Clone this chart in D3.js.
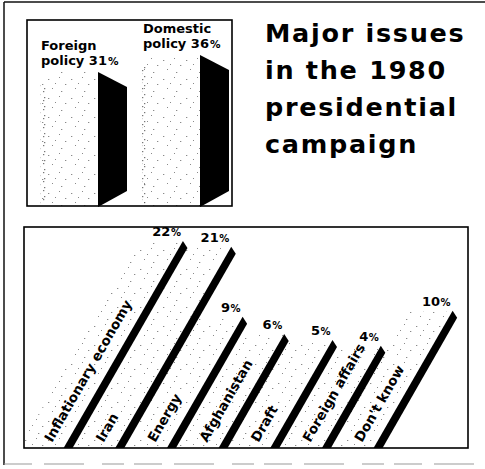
<!DOCTYPE html>
<html><head><meta charset="utf-8">
<script src="https://cdn.jsdelivr.net/npm/d3@7"></script>
<style>body{margin:0;background:#fff} svg{display:block}</style>
</head><body>
<script>
// ---- data ----
const policyCategories = ["Foreign policy", "Domestic policy"];
const policyLabelLines = [["Foreign", "policy"], ["Domestic", "policy"]];
const policyValues = [31, 36];
const issueCategories = ["Inflationary economy", "Iran", "Energy", "Afghanistan", "Draft", "Foreign affairs", "Don't know"];
const issueValues = [22, 21, 9, 6, 5, 4, 10];
const titleLines = ["Major issues", "in the 1980", "presidential", "campaign"];

(function () {
const W = 485, H = 469;
const FONT = "'DejaVu Sans', sans-serif";
const svg = d3.select("body").append("svg").attr("width", W).attr("height", H);

// stipple patterns
const defs = svg.append("defs");
const pat = defs.append("pattern").attr("id", "stip").attr("patternUnits", "userSpaceOnUse")
  .attr("width", 23).attr("height", 19);
[[2,3],[13,1],[19,8],[6,12],[15,15],[9,7]].forEach(([x, y], i) =>
  pat.append("rect").attr("x", x).attr("y", y).attr("width", i % 2 === 0 ? 1.3 : 1).attr("height", 1).attr("fill", "#8a8a8a"));
const pat2 = defs.append("pattern").attr("id", "stipDense").attr("patternUnits", "userSpaceOnUse")
  .attr("width", 7).attr("height", 9);
[[1,1],[4,4],[2,7]].forEach(([x, y]) =>
  pat2.append("rect").attr("x", x).attr("y", y).attr("width", 1.3).attr("height", 1.2).attr("fill", "#555"));

// outer frame
svg.append("line").attr("x1", 4).attr("x2", W).attr("y1", 2).attr("y2", 2).attr("stroke", "#111").attr("stroke-width", 1.5);
svg.append("line").attr("x1", 4).attr("x2", 4).attr("y1", 2).attr("y2", 465).attr("stroke", "#111").attr("stroke-width", 1.5);
svg.append("line").attr("x1", 4).attr("x2", W).attr("y1", 464).attr("y2", 464).attr("stroke", "#999")
  .attr("stroke-width", 1.2).attr("stroke-dasharray", "28,12,40,18,22,10");

// ---- top chart: policy ----
const tbox = {x0: 27, x1: 232, y0: 20, y1: 206};
const xP = d3.scalePoint().domain(policyCategories).range([40, 142]);
const yP = d3.scaleLinear().domain([0, 36]).range([177, 55]);
const frontW = 58, sideDX = 29, sideDY = 15;
const gP = svg.append("g");
policyCategories.forEach((c, i) => {
  const x = xP(c), yt = yP(policyValues[i]), yb = tbox.y1;
  gP.append("rect").attr("x", x).attr("y", yt).attr("width", frontW).attr("height", yb - yt).attr("fill", "url(#stip)");
  gP.append("rect").attr("x", x).attr("y", yt + 12).attr("width", 6).attr("height", yb - yt - 14).attr("fill", "url(#stipDense)").attr("opacity", 0.8);
  const xr = x + frontW;
  gP.append("path").attr("d", d3.line()([[xr, yt], [xr + sideDX, yt + sideDY], [xr + sideDX, yb - sideDY], [xr, yb + 1]]) + "Z")
    .attr("fill", "#000");
  gP.append("text").attr("x", x + 1).attr("y", yt - 22)
    .attr("font-family", FONT).attr("font-weight", "bold").attr("font-size", 13).attr("fill", "#000")
    .text(policyLabelLines[i][0]);
  const t = gP.append("text").attr("x", x + 1).attr("y", yt - 7)
    .attr("font-family", FONT).attr("font-weight", "bold").attr("font-size", 13).attr("fill", "#000");
  t.append("tspan").text(policyLabelLines[i][1] + " " + policyValues[i]);
  t.append("tspan").attr("font-size", 10.5).attr("dx", 1).text("%");
});
svg.append("rect").attr("x", tbox.x0).attr("y", tbox.y0).attr("width", tbox.x1 - tbox.x0).attr("height", tbox.y1 - tbox.y0)
  .attr("fill", "none").attr("stroke", "#000").attr("stroke-width", 1.6);

// ---- title ----
titleLines.forEach((l, i) => svg.append("text").attr("x", 265).attr("y", 42 + i * 37)
  .attr("font-family", FONT).attr("font-weight", "bold").attr("font-size", 25.5)
  .attr("letter-spacing", 1.7).attr("fill", "#000").text(l));

// ---- bottom chart: issues ----
const bbox = {x0: 24, x1: 468, y0: 227, y1: 448};
defs.append("clipPath").attr("id", "botclip").append("rect")
  .attr("x", bbox.x0).attr("y", bbox.y0).attr("width", bbox.x1 - bbox.x0).attr("height", bbox.y1 - bbox.y0);
const xI = d3.scalePoint().domain(issueCategories).range([63, 373]);
const yI = d3.scaleLinear().domain([0, 22]).range([370, 242]);
const k = 1 / Math.sqrt(3); // 60 degree slant
const sw = 9, fw = 44, B = bbox.y1;
const gI = svg.append("g").attr("clip-path", "url(#botclip)");
issueCategories.forEach((c, i) => {
  const xb = xI(c), yt = yI(issueValues[i]), h = B - yt;
  gI.append("path").attr("d", d3.line()([[xb - fw, B], [xb, B], [xb + h * k, yt], [xb - fw + h * k, yt]]) + "Z")
    .attr("fill", "url(#stip)");
});
issueCategories.forEach((c, i) => {
  const xb = xI(c), yt = yI(issueValues[i]), h = B - yt;
  const ly = B - 5, lx = xb + 5 * k - 14;
  gI.append("text").attr("transform", `translate(${lx},${ly}) rotate(-60)`)
    .attr("font-family", FONT).attr("font-weight", "bold").attr("font-size", 13.5).attr("fill", "#000")
    .text(c);
  gI.append("path").attr("d", d3.line()([[xb, B + 1], [xb + sw, B + 1], [xb + sw + (h - 6) * k, yt + 6], [xb + h * k + 1, yt - 1]]) + "Z")
    .attr("fill", "#000");
  const vt = svg.append("text").attr("x", xb + h * k - 1).attr("y", yt - 6).attr("text-anchor", "end")
    .attr("font-family", FONT).attr("font-weight", "bold").attr("font-size", 13).attr("fill", "#000");
  vt.append("tspan").text(issueValues[i]);
  vt.append("tspan").attr("font-size", 10).attr("dx", 0.5).text("%");
});
svg.append("rect").attr("x", bbox.x0).attr("y", bbox.y0).attr("width", bbox.x1 - bbox.x0).attr("height", bbox.y1 - bbox.y0)
  .attr("fill", "none").attr("stroke", "#000").attr("stroke-width", 1.6);
})();
</script>
</body></html>
